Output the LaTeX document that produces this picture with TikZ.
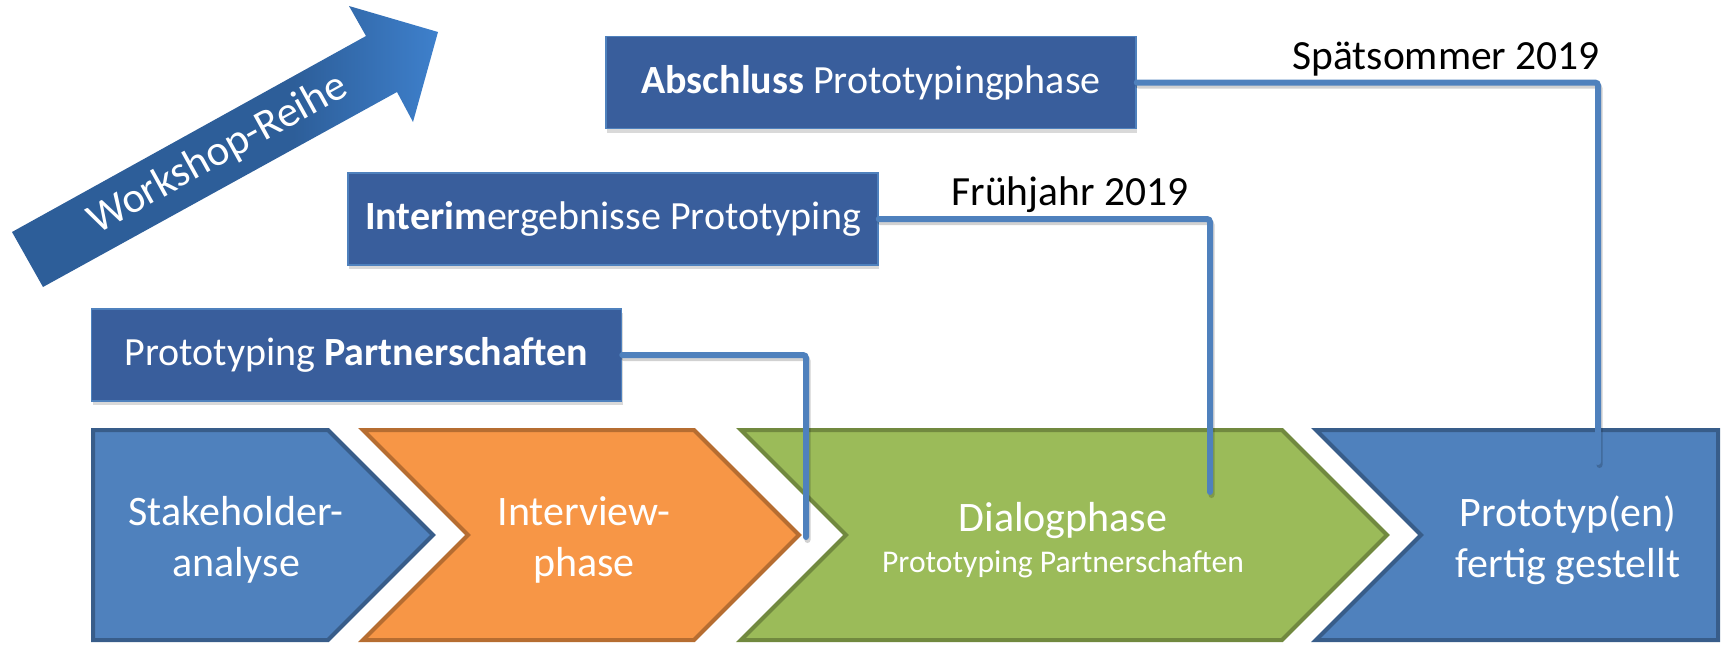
\documentclass[tikz,border=0pt]{standalone}
\usepackage{fontspec}
\setmainfont{Carlito}
\usetikzlibrary{shadows}

\definecolor{boxblue}{RGB}{57,94,156}
\definecolor{boxedge}{RGB}{79,129,189}
\definecolor{accblue}{RGB}{79,129,189}
\definecolor{accblueedge}{RGB}{56,93,138}
\definecolor{accorange}{RGB}{247,150,70}
\definecolor{accorangeedge}{RGB}{182,109,49}
\definecolor{accgreen}{RGB}{155,187,89}
\definecolor{accgreenedge}{RGB}{113,137,63}
\definecolor{linkblue}{RGB}{79,129,189}
\definecolor{arrowdark}{RGB}{45,94,153}
\definecolor{arrowlight}{RGB}{62,128,204}

% darker along the shaft, brightening towards the arrow head
\pgfdeclarehorizontalshading{workshopshade}{100bp}{%
  color(0bp)=(arrowdark); color(25bp)=(arrowdark); color(58bp)=(arrowdark);
  color(75bp)=(arrowlight); color(100bp)=(arrowlight)}

\begin{document}
\begin{tikzpicture}[x=1pt,y=-1pt,
  milestone/.style={draw=boxedge, line width=1.5pt, fill=boxblue, text=white,
    minimum width=530pt, minimum height=92pt, inner sep=0pt,
    font=\fontsize{40}{48}\selectfont,
    drop shadow={shadow xshift=1pt, shadow yshift=-4pt, opacity=0.3}},
  phaseshape/.style={line width=4pt, line join=miter},
  phasetext/.style={text=white, align=center, font=\fontsize{42}{51}\selectfont},
  conn/.style={draw=linkblue, line width=6pt, line cap=round, rounded corners=3pt},
  connshadow/.style={draw=black, opacity=0.18, line width=6pt, line cap=round,
    rounded corners=3pt, transform canvas={shift={(1.5pt,-3pt)}}},
  datelabel/.style={anchor=base west, font=\fontsize{41.5}{50}\selectfont},
]
\useasboundingbox (0,0) rectangle (1725,646);

% Workshop series arrow
\path[shading=workshopshade]
  (12,232) -- (366,36) -- (349,6) -- (438,32) -- (413,122) -- (397,92) -- (43,287) -- cycle;
\node[rotate=29, text=white, font=\fontsize{43}{50}\selectfont] (ws) at (218,154) {Workshop-Reihe};

% process chevrons
\path[phaseshape, fill=accblue, draw=accblueedge]
  (93,430) -- (328,430) -- (433,535) -- (328,640) -- (93,640) -- cycle;
\path[phaseshape, fill=accorange, draw=accorangeedge]
  (363,430) -- (694,430) -- (799,535) -- (694,640) -- (363,640) -- (468,535) -- cycle;
\path[phaseshape, fill=accgreen, draw=accgreenedge]
  (741,430) -- (1282,430) -- (1387,535) -- (1282,640) -- (741,640) -- (846,535) -- cycle;
\path[phaseshape, fill=accblue, draw=accblueedge]
  (1316,430) -- (1718,430) -- (1718,640) -- (1316,640) -- (1421,535) -- cycle;

\node[phasetext] (st) at (236,540) {Stakeholder-\\analyse};
\node[phasetext] (iv) at (584,540) {Interview-\\phase};
\node[phasetext] (dg) at (1063,540) {Dialogphase\\[-10pt]\fontsize{31.6}{38}\selectfont Prototyping Partnerschaften};
\node[phasetext] (pr) at (1568,540) {Prototyp(en)\\fertig gestellt};

% milestone boxes
\node[milestone] (pbox) at (356.5,355) {Prototyping \textbf{Partnerschaften}};
\node[milestone] (ibox) at (613,219) {\textbf{Interim}ergebnisse Prototyping};
\node[milestone] (abox) at (871,82.5) {\textbf{Abschluss} Prototypingphase};

% dates
\node[datelabel] (d1) at (948,205) {Frühjahr 2019};
\node[datelabel] (d2) at (1289,69) {Spätsommer 2019};

% connector end points inside the phases
\coordinate (e1) at (806,537);
\coordinate (e2) at (1210,492);
\coordinate (e3) at (1598,462);

\draw[connshadow] (pbox.east) -| (e1);
\draw[connshadow] (ibox.east) -| (e2);
\draw[connshadow] (abox.east) -| (e3);
\draw[conn] (pbox.east) -| (e1);
\draw[conn] (ibox.east) -| (e2);
\draw[conn] (abox.east) -| (e3);
\end{tikzpicture}
\end{document}
